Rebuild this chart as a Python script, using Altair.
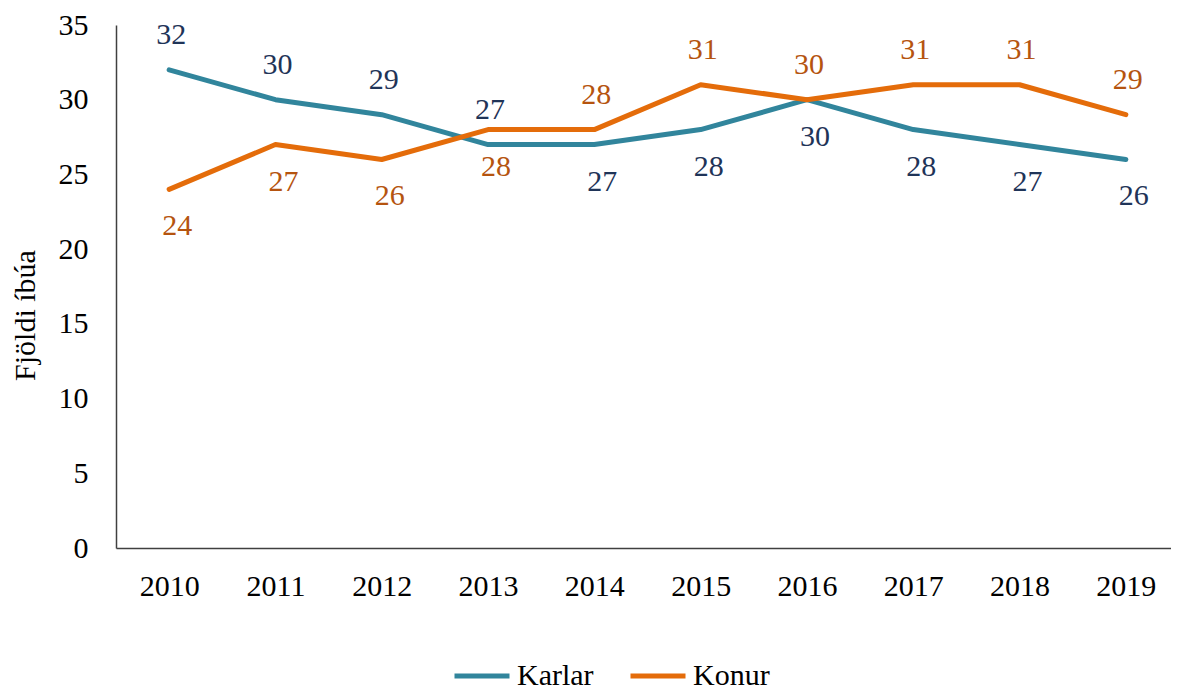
import altair as alt
import pandas as pd

years = [2010, 2011, 2012, 2013, 2014, 2015, 2016, 2017, 2018, 2019]
karlar = [32, 30, 29, 27, 27, 28, 30, 28, 27, 26]
konur = [24, 27, 26, 28, 28, 31, 30, 31, 31, 29]
karlar_label_side = ["above"] * 4 + ["below"] * 6
konur_label_side = ["below"] * 4 + ["above"] * 6
series_names = ["Karlar", "Konur"]
y_ticks = [0, 5, 10, 15, 20, 25, 30, 35]

rows = []
for name, vals, sides in [("Karlar", karlar, karlar_label_side), ("Konur", konur, konur_label_side)]:
    for yr, v, s in zip(years, vals, sides):
        rows.append({"year": str(yr), "series": name, "value": v, "side": s})
df = pd.DataFrame(rows)

FONT = "Liberation Serif"
line_colors = ["#31859C", "#E46C0A"]
label_colors = ["#1F3458", "#B5540F"]

x_enc = alt.X("year:O", title=None, sort=[str(y) for y in years],
              scale=alt.Scale(range=[0, 1063]),
              axis=alt.Axis(labelAngle=0, ticks=False, labelPadding=23))
y_enc = alt.Y("value:Q", title="Fjöldi íbúa",
              scale=alt.Scale(domain=[0, 35], nice=False, zero=True),
              axis=alt.Axis(values=y_ticks, ticks=False, labelPadding=28,
                            titleX=-91, titleY=290, titleAlign="center",
                            titleBaseline="middle", titleAngle=-90))

base = alt.Chart(df).encode(x=x_enc, y=y_enc)

lines = base.mark_line(strokeWidth=5, strokeCap="round", strokeJoin="round").encode(
    color=alt.Color("series:N",
                    scale=alt.Scale(domain=series_names, range=line_colors),
                    legend=alt.Legend(title=None, orient="none", legendX=336, legendY=621,
                                      direction="horizontal", symbolType="stroke",
                                      symbolSize=3025, symbolStrokeWidth=5,
                                      labelFont=FONT, labelFontSize=30, labelColor="#000",
                                      labelOffset=5, columnPadding=26, padding=0))
)

label_color = alt.Color("series:N",
                        scale=alt.Scale(domain=series_names, range=label_colors),
                        legend=None)

above = base.transform_filter(alt.datum.side == "above").mark_text(
    font=FONT, fontSize=30, baseline="middle", dy=-34.5, dx=2
).encode(text="value:Q", color=label_color)

below = base.transform_filter(alt.datum.side == "below").mark_text(
    font=FONT, fontSize=30, baseline="middle", dy=37, dx=8
).encode(text="value:Q", color=label_color)

chart = alt.layer(lines, above, below).resolve_scale(color="independent").properties(
    width=1055, height=523,
    autosize=alt.AutoSizeParams(type="none"),
    padding={"left": 108, "top": 17, "right": 0, "bottom": 144},
).configure_view(stroke=None).configure_axis(
    labelFont=FONT, titleFont=FONT, labelFontSize=30, titleFontSize=30,
    labelColor="#000", titleColor="#000", titleFontWeight="normal",
    domainColor="#404040", domainWidth=1.5, grid=False
)

chart.save("out.html", embed_options={"renderer": "svg", "actions": False})
